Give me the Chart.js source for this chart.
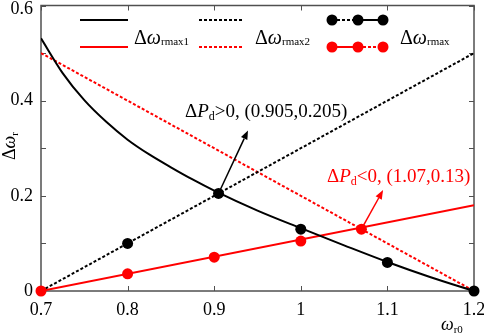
<!DOCTYPE html>
<html>
<head>
<meta charset="utf-8">
<script src="https://cdn.jsdelivr.net/npm/chart.js@4/dist/chart.umd.min.js"></script>
<style>
html,body{margin:0;padding:0;background:#fff;}
#wrap{width:484px;height:335px;position:relative;}
</style>
</head>
<body>
<div id="wrap"><canvas id="c" width="484" height="335"></canvas></div>
<script>
// ---- data ----
const xCurve = [0.7, 0.725, 0.75, 0.775, 0.8, 0.825, 0.85, 0.875, 0.9, 0.95, 1.0, 1.05, 1.1, 1.15, 1.2];
const rmax1Black = [0.531, 0.458, 0.401, 0.356, 0.318, 0.287, 0.26, 0.2345, 0.211, 0.169, 0.132, 0.096, 0.061, 0.029, 0];
const xLine = [0.7, 1.2];
const rmax2Black = [0, 0.5];
const rmax1Red = [0, 0.18];
const rmax2Red = [0.5, 0];
const xMaxBlack = [0.8, 0.905, 1.0, 1.1, 1.2];
const rmaxBlack = [0.1, 0.205, 0.13, 0.06, 0];
const xMaxRed = [0.7, 0.8, 0.9, 1.0, 1.07];
const rmaxRed = [0, 0.036, 0.071, 0.105, 0.13];
const xTickLabels = ['0.7', '0.8', '0.9', '1', '1.1', '1.2'];
const yTickLabels = ['0', '0.2', '0.4', '0.6'];

const RED = '#ff0000';
const FRAME = '#505050';
const SERIF = '"Liberation Serif", "Times New Roman", serif';

function pts(xs, ys) { return xs.map((x, i) => ({x: x, y: ys[i]})); }

const annotations = [
  {text: '>0, (0.905,0.205)', color: '#000', from: {x: 0.905, y: 0.205}, to: {x: 0.939, y: 0.3375}, tx: 185, ty: 117},
  {text: '<0, (1.07,0.13)', color: RED, from: {x: 1.07, y: 0.13}, to: {x: 1.095, y: 0.212}, tx: 327, ty: 182}
];

function drawRich(ctx, x, y, parts) {
  let cx = x;
  parts.forEach(p => {
    ctx.font = (p.italic ? 'italic ' : '') + p.size + 'px ' + SERIF;
    ctx.fillText(p.t, cx, y + (p.dy || 0));
    cx += ctx.measureText(p.t).width + (p.gap || 0);
  });
  return cx;
}

const framePlugin = {
  id: 'frame',
  beforeDatasetsDraw(chart) {
    const {ctx, chartArea: a, scales: {x, y}} = chart;
    ctx.save();
    ctx.strokeStyle = FRAME;
    ctx.lineWidth = 1.5;
    ctx.strokeRect(a.left, a.top, a.right - a.left, a.bottom - a.top);
    ctx.lineWidth = 1;
    ctx.beginPath();
    x.ticks.forEach(t => {
      const px = Math.round(x.getPixelForValue(t.value)) + 0.5;
      ctx.moveTo(px, a.bottom); ctx.lineTo(px, a.bottom - 5);
      ctx.moveTo(px, a.top); ctx.lineTo(px, a.top + 5);
    });
    y.ticks.forEach(t => {
      const py = Math.round(y.getPixelForValue(t.value)) + 0.5;
      ctx.moveTo(a.left, py); ctx.lineTo(a.left + 5, py);
      ctx.moveTo(a.right, py); ctx.lineTo(a.right - 5, py);
    });
    ctx.stroke();
    ctx.fillStyle = '#000';
    ctx.font = '18px ' + SERIF;
    ctx.textAlign = 'center';
    ctx.textBaseline = 'middle';
    x.ticks.forEach((t, i) => {
      ctx.fillText(xTickLabels[i], x.getPixelForValue(t.value), a.bottom + 19);
    });
    ctx.textAlign = 'right';
    yTickLabels.forEach(lbl => {
      let py = y.getPixelForValue(parseFloat(lbl));
      if (py < a.top + 4) py = a.top + 4;
      ctx.fillText(lbl, a.left - 8, py);
    });
    ctx.textAlign = 'left';
    ctx.textBaseline = 'alphabetic';
    ctx.save();
    ctx.translate(15, 160);
    ctx.rotate(-Math.PI / 2);
    drawRich(ctx, 0, 0, [{t: 'Δ', size: 18}, {t: 'ω', italic: true, size: 18}, {t: 'r', size: 11, dy: 3}]);
    ctx.restore();
    drawRich(ctx, 441, 330, [{t: 'ω', italic: true, size: 18}, {t: 'r0', size: 11, dy: 3}]);
    ctx.restore();
  },
  afterDraw(chart) {
    const {ctx, scales: {x, y}} = chart;
    ctx.save();
    const seg = (x1, y1, x2, color, dash) => {
      ctx.beginPath();
      ctx.strokeStyle = color; ctx.lineWidth = 2;
      ctx.setLineDash(dash || []);
      ctx.moveTo(x1, y1); ctx.lineTo(x2, y1); ctx.stroke();
      ctx.setLineDash([]);
    };
    const dot = (cx, cy, color) => {
      ctx.beginPath(); ctx.fillStyle = color;
      ctx.arc(cx, cy, 5.5, 0, Math.PI * 2); ctx.fill();
    };
    seg(80, 20, 128, '#000');
    seg(80, 47, 128, RED);
    seg(199, 20, 243, '#000', [3, 2]);
    seg(199, 47, 243, RED, [3, 2]);
    seg(332, 20, 358, '#000', [3, 2]);
    seg(358, 20, 383, '#000');
    seg(332, 47, 358, RED);
    seg(358, 47, 383, RED, [3, 2]);
    [332, 358, 383].forEach(cx => { dot(cx, 20, '#000'); dot(cx, 47, RED); });
    ctx.textBaseline = 'alphabetic';
    ctx.textAlign = 'left';
    const lbl = (lx, sub) => {
      ctx.fillStyle = '#000';
      drawRich(ctx, lx, 44, [{t: 'Δ', size: 20}, {t: 'ω', italic: true, size: 20}, {t: sub, size: 11, dy: 1}]);
    };
    lbl(134, 'rmax1');
    lbl(255, 'rmax2');
    lbl(400, 'rmax');
    annotations.forEach(an => {
      const x1 = x.getPixelForValue(an.from.x), y1 = y.getPixelForValue(an.from.y);
      const x2 = x.getPixelForValue(an.to.x), y2 = y.getPixelForValue(an.to.y);
      ctx.strokeStyle = an.color; ctx.fillStyle = an.color; ctx.lineWidth = 1.5;
      const ang = Math.atan2(y2 - y1, x2 - x1);
      const hl = 9, hw = 3.5;
      const bx = x2 - hl * Math.cos(ang), by = y2 - hl * Math.sin(ang);
      ctx.beginPath(); ctx.moveTo(x1, y1); ctx.lineTo(bx, by); ctx.stroke();
      ctx.beginPath();
      ctx.moveTo(x2, y2);
      ctx.lineTo(bx + hw * Math.sin(ang), by - hw * Math.cos(ang));
      ctx.lineTo(bx - hw * Math.sin(ang), by + hw * Math.cos(ang));
      ctx.closePath(); ctx.fill();
      drawRich(ctx, an.tx, an.ty, [{t: 'Δ', size: 19}, {t: 'P', italic: true, size: 19}, {t: 'd', size: 12, dy: 3}, {t: an.text, size: 19}]);
    });
    ctx.restore();
  }
};

new Chart(document.getElementById('c'), {
  type: 'scatter',
  data: {
    datasets: [
      {label: 'rmaxBlack', data: pts(xMaxBlack, rmaxBlack), showLine: false, pointRadius: 5.5, pointBackgroundColor: '#000', pointBorderWidth: 0, order: 0, clip: false},
      {label: 'rmaxRed', data: pts(xMaxRed, rmaxRed), showLine: false, pointRadius: 5.5, pointBackgroundColor: RED, pointBorderWidth: 0, order: 1, clip: false},
      {label: 'rmax1Black', data: pts(xCurve, rmax1Black), showLine: true, borderColor: '#000', borderWidth: 2, pointRadius: 0, cubicInterpolationMode: 'monotone', order: 2},
      {label: 'rmax1Red', data: pts(xLine, rmax1Red), showLine: true, borderColor: RED, borderWidth: 2, pointRadius: 0, order: 3},
      {label: 'rmax2Black', data: pts(xLine, rmax2Black), showLine: true, borderColor: '#000', borderWidth: 2, borderDash: [3, 2], pointRadius: 0, order: 4},
      {label: 'rmax2Red', data: pts(xLine, rmax2Red), showLine: true, borderColor: RED, borderWidth: 2, borderDash: [3, 2], pointRadius: 0, order: 5}
    ]
  },
  options: {
    responsive: false,
    animation: false,
    devicePixelRatio: 1,
    layout: {padding: {top: 5, right: 10, left: 0, bottom: 0}},
    plugins: {legend: {display: false}, tooltip: {enabled: false}},
    scales: {
      x: {
        type: 'linear', min: 0.7, max: 1.2,
        ticks: {display: false, stepSize: 0.1},
        grid: {display: false}, border: {display: false},
        afterFit(s) { s.height = 44; }
      },
      y: {
        type: 'linear', min: 0, max: 0.6,
        ticks: {display: false, stepSize: 0.1},
        grid: {display: false}, border: {display: false},
        afterFit(s) { s.width = 41; }
      }
    }
  },
  plugins: [framePlugin]
});
</script>
</body>
</html>
